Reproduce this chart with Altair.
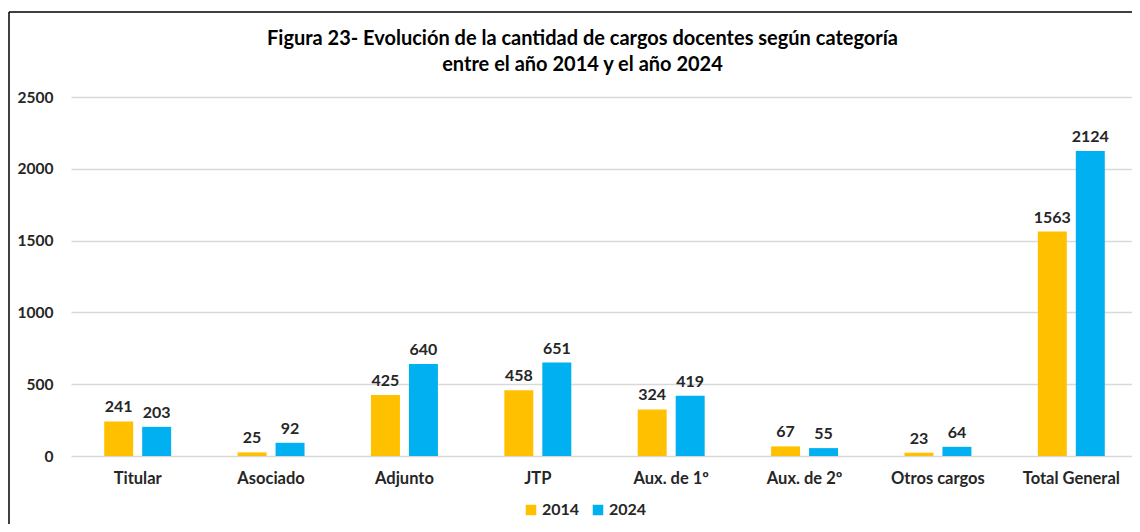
import altair as alt
import pandas as pd

categories = ["Titular", "Asociado", "Adjunto", "JTP", "Aux. de 1º", "Aux. de 2º", "Otros cargos", "Total General"]
years = ["2014", "2024"]
v2014 = [241, 25, 425, 458, 324, 67, 23, 1563]
v2024 = [203, 92, 640, 651, 419, 55, 64, 2124]

rows = []
for c, a, b in zip(categories, v2014, v2024):
    rows.append({"cat": c, "year": "2014", "val": a})
    rows.append({"cat": c, "year": "2024", "val": b})
df = pd.DataFrame(rows)

FONT = "Lato"
colors = ["#FFC000", "#00B0F0"]

x = alt.X("cat:N", sort=categories, title=None,
          scale=alt.Scale(paddingInner=0.498, paddingOuter=0.249, range=[0, 1067]),
          axis=alt.Axis(labelAngle=0, labelFont=FONT, labelFontSize=16.5, labelFontWeight="bold",
                        labelColor="#262626", labelPadding=14, ticks=False, domain=False, grid=False))
y = alt.Y("val:Q", title=None,
          scale=alt.Scale(domain=[0, 2500], nice=False),
          axis=alt.Axis(values=[0, 500, 1000, 1500, 2000, 2500], format="d", labelFont=FONT,
                        labelFontSize=15.5, labelFontWeight="bold", labelColor="#262626",
                        labelPadding=18, ticks=False, domain=False, gridColor="#d9d9d9",
                        gridWidth=1.3))
xo = alt.XOffset("year:N", sort=years, scale=alt.Scale(paddingInner=0.237, paddingOuter=0))
color = alt.Color("year:N", sort=years, scale=alt.Scale(domain=years, range=colors),
                  legend=alt.Legend(title=None, orient="none", legendX=452, legendY=405,
                                    direction="horizontal", symbolType="square", symbolSize=110,
                                    symbolStrokeWidth=0, labelFont=FONT, labelFontSize=16,
                                    labelFontWeight="bold", labelColor="#262626", columnPadding=10,
                                    labelOffset=3))

base = alt.Chart(df)
bars = base.mark_bar().encode(x=x, y=y, xOffset=xo, color=color)
labels = base.mark_text(baseline="bottom", dy=-6, font=FONT, fontSize=16, fontWeight="bold",
                        color="#262626").encode(x=x, y=y, xOffset=xo, text="val:Q")

border_df = pd.DataFrame({"k": [0]})
left_border = alt.Chart(border_df).mark_rule(color="#000000", strokeWidth=1.5).encode(
    x=alt.value(-62), y=alt.value(-85), y2=alt.value(600))
top_border = alt.Chart(border_df).mark_rule(color="#000000", strokeWidth=1.5).encode(
    x=alt.value(-62), x2=alt.value(1200), y=alt.value(-85))

chart = alt.layer(bars, labels, left_border, top_border).properties(
    width=1061, height=359,
    padding={"left": 63, "top": 89, "right": 0, "bottom": 68},
    autosize=alt.AutoSizeParams(type="none"),
    title=alt.TitleParams(
        text=["Figura 23- Evolución de la cantidad de cargos docentes según categoría",
              "entre el año  2014  y el  año 2024"],
        font=FONT, fontSize=20, fontWeight="bold", color="#000000", anchor="middle",
        dx=-19, offset=0, dy=64, lineHeight=26)
).configure_view(stroke=None)

chart.save("out.html", embed_options={"renderer": "svg", "actions": False})
